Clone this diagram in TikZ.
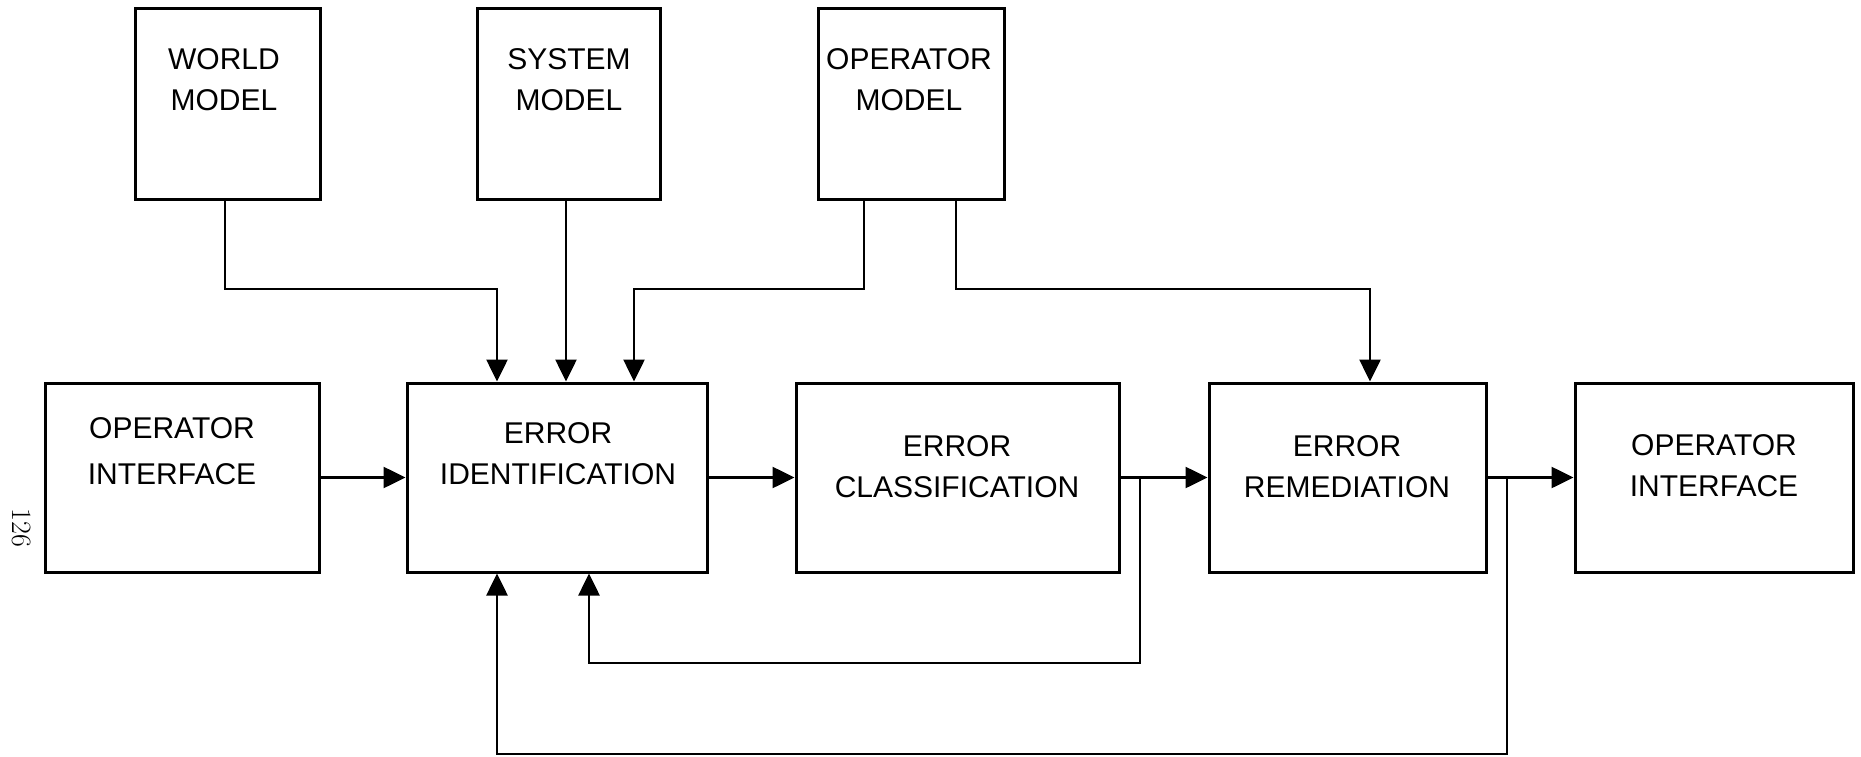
\documentclass[tikz,border=0pt]{standalone}
\usepackage{fontspec}
\newfontfamily\plotfont{Liberation Sans}
\usetikzlibrary{arrows.meta}
\tikzset{
  box/.style={draw, line width=3pt, rectangle, inner sep=0pt},
  lbl/.style={font=\plotfont\fontsize{30}{41}\selectfont, align=center, inner sep=0pt},
  arr/.style={line width=2.6pt, -{Triangle[length=22pt,width=21pt]}},
}
\begin{document}
\begin{tikzpicture}[x=1pt,y=-1pt]
\useasboundingbox (0,0) rectangle (1861,757);
% top boxes
\node[box, minimum width=185pt, minimum height=190pt] (wm) at (227.5,104) {};
\node[box, minimum width=183pt, minimum height=190pt] (sm) at (568.5,104) {};
\node[box, minimum width=186pt, minimum height=190pt] (om) at (911,104) {};
\node[lbl] (wmt) at (224,80) {WORLD\\MODEL};
\node[lbl] (smt) at (569,80) {SYSTEM\\MODEL};
\node[lbl] (omt) at (909,80) {OPERATOR\\MODEL};
% main row
\node[box, minimum width=274pt, minimum height=189pt] (oi1) at (182,477.5) {};
\node[box, minimum width=300pt, minimum height=189pt] (ei) at (557,477.5) {};
\node[box, minimum width=323pt, minimum height=189pt] (ec) at (957.5,477.5) {};
\node[box, minimum width=277pt, minimum height=189pt] (er) at (1347.5,477.5) {};
\node[box, minimum width=278pt, minimum height=189pt] (oi2) at (1714,477.5) {};
\node[lbl, font=\plotfont\fontsize{30}{46}\selectfont] (oi1t) at (172,451) {OPERATOR\\INTERFACE};
\node[lbl] (eit) at (558,454) {ERROR\\IDENTIFICATION};
\node[lbl] (ect) at (957,467) {ERROR\\CLASSIFICATION};
\node[lbl] (ert) at (1347,466.5) {ERROR\\REMEDIATION};
\node[lbl] (oi2t) at (1714,466) {OPERATOR\\INTERFACE};
% page number
\node[rotate=-90, font=\fontsize{28}{30}\selectfont, inner sep=0pt] (pg) at (22,528) {126};
% bend points
\coordinate (b1) at (497,289);
\coordinate (b2) at (634,289);
\coordinate (b3) at (1370,289);
\coordinate (f1) at (1140,663);
\coordinate (f1b) at (589,663);
\coordinate (f2) at (1507,754);
\coordinate (f2b) at (497,754);
% model connectors
\draw[arr] ([xshift=-2.5pt]wm.south) |- (b1) -- (b1 |- ei.north);
\draw[arr] ([xshift=-2.5pt]sm.south) -- ([xshift=-2.5pt]sm.south |- ei.north);
\draw[arr] ([xshift=-47pt]om.south) |- (b2) -- (b2 |- ei.north);
\draw[arr] ([xshift=45pt]om.south) |- (b3) -- (b3 |- er.north);
% main flow
\draw[arr] (oi1.east) -- (ei.west);
\draw[arr] (ei.east) -- (ec.west);
\draw[arr] (ec.east) -- (er.west);
\draw[arr] (er.east) -- (oi2.west);
% feedback
\draw[arr] (f1 |- ec.east) |- (f1b) -- (f1b |- ei.south);
\draw[arr] (f2 |- er.east) |- (f2b) -- (f2b |- ei.south);
\end{tikzpicture}
\end{document}
